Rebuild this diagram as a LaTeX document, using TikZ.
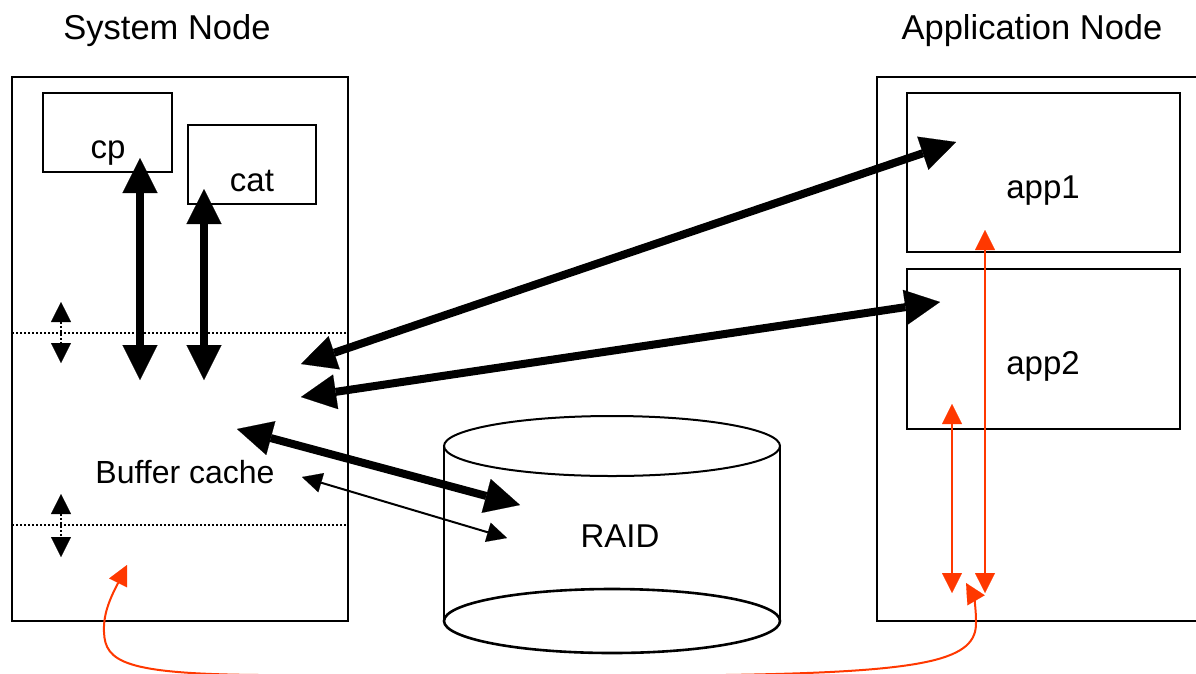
\documentclass[tikz,border=0pt]{standalone}
\usepackage{fontspec}
\setmainfont{Liberation Sans}
\usetikzlibrary{arrows.meta}
\definecolor{redline}{RGB}{255,56,0}
\begin{document}
\begin{tikzpicture}[x=1pt,y=-1pt,
 box/.style={draw=black,line width=2.6pt,inner sep=0pt},
 lbl/.style={font=\fontsize{33}{40}\selectfont,anchor=base,inner sep=0pt},
 title/.style={font=\fontsize{34.5}{40}\selectfont,anchor=base,inner sep=0pt},
 bigarr/.style={line width=8pt,{Triangle[length=35pt,width=35pt,line width=0.1pt]}-{Triangle[length=35pt,width=35pt,line width=0.1pt]}},
 thinarr/.style={line width=2pt,{Triangle[length=20pt,width=20pt,line width=0.1pt]}-{Triangle[length=20pt,width=20pt,line width=0.1pt]}},
 redarr/.style={redline,line width=2pt,{Triangle[length=20pt,width=20pt,line width=0.1pt]}-{Triangle[length=20pt,width=20pt,line width=0.1pt]}},
 dotline/.style={line width=1.6pt,dash pattern=on 1.6pt off 2.4pt},
 dotarr/.style={dotline,{Triangle[length=20pt,width=20pt,line width=0.1pt]}-{Triangle[length=20pt,width=20pt,line width=0.1pt]}}
]
\useasboundingbox (0,0) rectangle (1196,673);
\clip (0,0) rectangle (1196,673);

% titles
\node[title] (systitle) at (167,39) {System Node};
\node[title] (apptitle) at (1032,39) {Application Node};

% outer boxes
\node[box,minimum width=336pt,minimum height=544pt] (sys) at (180,349) {};
\node[box,minimum width=340pt,minimum height=544pt] (appnode) at (1047,349) {};

% inner boxes
\node[box,minimum width=129pt,minimum height=79pt] (cp) at (107.5,132.5) {};
\node[lbl] (cplbl) at (108,158) {cp};
\node[box,minimum width=128pt,minimum height=79pt] (cat) at (252,164.5) {};
\node[lbl] (catlbl) at (252,191) {cat};
\node[box,minimum width=273pt,minimum height=159pt] (app1) at (1043.5,172.5) {};
\node[lbl] (app1lbl) at (1043,198) {app1};
\node[box,minimum width=273pt,minimum height=160pt] (app2) at (1043.5,349) {};
\node[lbl] (app2lbl) at (1043,374) {app2};

% buffer cache
\node[lbl,font=\fontsize{32}{40}\selectfont] (buf) at (185,483) {Buffer cache};
\draw[dotline] (12,333) -- (348,333);
\draw[dotline] (12,525) -- (348,525);
\draw[dotarr] (61,302) -- (61,363);
\draw[dotarr] (61,494) -- (61,557);

% RAID cylinder
\draw[line width=2pt] (444,446) -- (444,621);
\draw[line width=2pt] (780,446) -- (780,621);
\draw[line width=2pt] (612,446) ellipse [x radius=168pt,y radius=30pt];
\draw[line width=2.6pt] (612,621) ellipse [x radius=168pt,y radius=32pt];
\node[lbl] (raid) at (620,547) {RAID};

% connector end points
\coordinate (cpA) at (140,158);
\coordinate (cpB) at (140,380);
\coordinate (catA) at (204,189);
\coordinate (catB) at (204,380);
\coordinate (a1A) at (956,142);
\coordinate (a1B) at (301,364);
\coordinate (a2A) at (940,302);
\coordinate (a2B) at (301,397);
\coordinate (rA) at (237,429);
\coordinate (rB) at (520,505);
\coordinate (tA) at (302,477);
\coordinate (tB) at (507,538);
\coordinate (redA1) at (952,404);
\coordinate (redA2) at (952,593);
\coordinate (redB1) at (985,230);
\coordinate (redB2) at (985,593);
\coordinate (curveL) at (127,565);
\coordinate (curveR) at (966,583);

\draw[bigarr] (cpA) -- (cpB);
\draw[bigarr] (catA) -- (catB);
\draw[bigarr] (a1A) -- (a1B);
\draw[bigarr] (a2A) -- (a2B);
\draw[bigarr] (rA) -- (rB);
\draw[thinarr] (tA) -- (tB);
\draw[redarr] (redA1) -- (redA2);
\draw[redarr] (redB1) -- (redB2);
\draw[redarr] (curveL) .. controls (112,595) and (103,612) .. (104,632)
   .. controls (105,662) and (125,674) .. (260,675) -- (725,675)
   .. controls (930,672) and (977,660) .. (976,622)
   .. controls (976,605) and (973,595) .. (curveR);
\end{tikzpicture}
\end{document}
